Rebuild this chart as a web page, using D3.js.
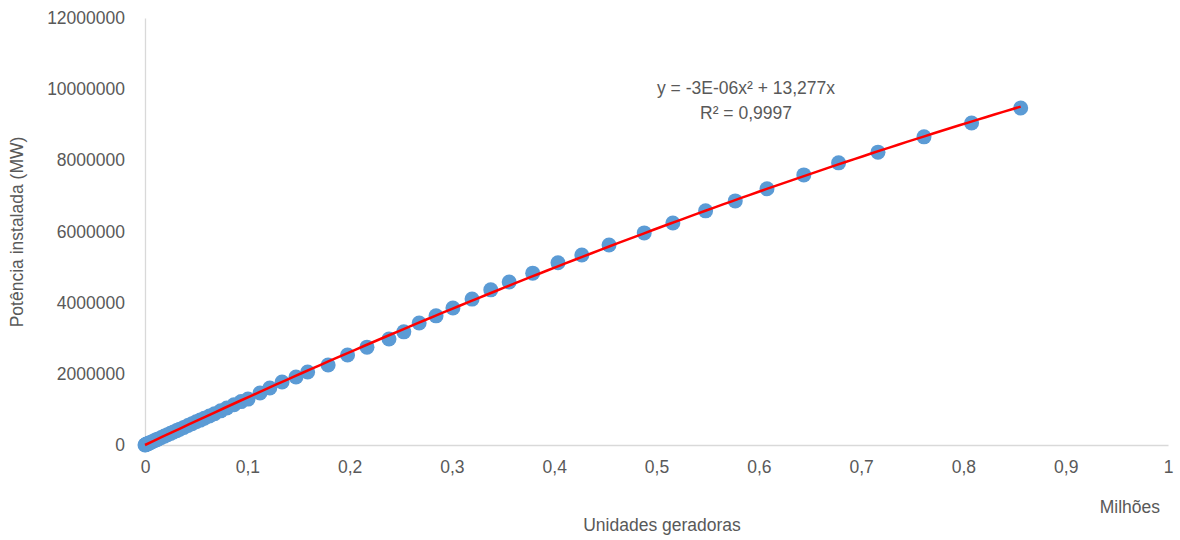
<!DOCTYPE html>
<html>
<head>
<meta charset="utf-8">
<script src="https://cdn.jsdelivr.net/npm/d3@7"></script>
<style>
  body { margin: 0; background: #fff; }
  text { font-family: "Liberation Sans", Arial, sans-serif; fill: #595959; }
</style>
</head>
<body>
<div id="chart"></div>
<script>
// Unidades geradoras (milhões)
const unidades = [
  0, 0.0005, 0.001, 0.0015, 0.002, 0.003, 0.004, 0.005, 0.007, 0.009,
  0.011, 0.013, 0.016, 0.019, 0.022, 0.025, 0.028, 0.031, 0.034, 0.038,
  0.042, 0.046, 0.050, 0.054, 0.058, 0.063, 0.068, 0.074, 0.080, 0.087,
  0.094, 0.1007, 0.1124, 0.122, 0.134, 0.1476, 0.159, 0.179, 0.198, 0.217,
  0.2385, 0.253, 0.268, 0.2845, 0.301, 0.3197, 0.338, 0.356, 0.379, 0.4037,
  0.427, 0.4536, 0.488, 0.516, 0.548, 0.577, 0.608, 0.644, 0.678, 0.7165,
  0.7615, 0.808, 0.856
];
// Potência instalada (MW)
const potencia = [
  0, 6000, 13000, 20000, 27000, 40000, 53000, 66000, 92000, 118000,
  145000, 172000, 210000, 250000, 290000, 328000, 368000, 405000, 445000, 495000,
  548000, 600000, 652000, 700000, 752000, 815000, 880000, 960000, 1040000, 1130000,
  1220000, 1290000, 1460000, 1600000, 1770000, 1910000, 2050000, 2250000, 2530000, 2750000,
  2980000, 3180000, 3430000, 3630000, 3850000, 4100000, 4360000, 4580000, 4830000, 5120000,
  5340000, 5620000, 5960000, 6240000, 6580000, 6860000, 7200000, 7590000, 7930000, 8230000,
  8660000, 9050000, 9470000
];
const xTicks = [0, 0.1, 0.2, 0.3, 0.4, 0.5, 0.6, 0.7, 0.8, 0.9, 1];
const yTicks = [0, 2000000, 4000000, 6000000, 8000000, 10000000, 12000000];
const equacao = ["y = -3E-06x² + 13,277x", "R² = 0,9997"];

const width = 1180, height = 540;
const margin = { left: 145, right: 12, top: 18, bottom: 95 };

const data = unidades.map((u, i) => ({ x: u, y: potencia[i] }));

const svg = d3.select("#chart").append("svg")
  .attr("width", width)
  .attr("height", height);

const xScale = d3.scaleLinear().domain([0, 1]).range([margin.left, width - margin.right]);
const yScale = d3.scaleLinear().domain([0, 12000000]).range([height - margin.bottom, margin.top]);

// axes
const xAxis = d3.axisBottom(xScale).tickValues(xTicks).tickSize(0).tickPadding(16)
  .tickFormat(d => String(d).replace(".", ","));
const gx = svg.append("g")
  .attr("transform", `translate(0, ${yScale(0)})`)
  .call(xAxis);
gx.select(".domain").attr("stroke", "#d9d9d9").attr("stroke-width", 1.3);
gx.selectAll("text").style("font-size", "17.5px").attr("fill", "#595959");

const yAxis = d3.axisLeft(yScale).tickValues(yTicks).tickSize(0).tickPadding(20)
  .tickFormat(d3.format("d"));
const gy = svg.append("g")
  .attr("transform", `translate(${xScale(0)}, 0)`)
  .call(yAxis);
gy.select(".domain").attr("stroke", "#d9d9d9").attr("stroke-width", 1.3);
gy.selectAll("text").style("font-size", "17.5px").attr("fill", "#595959");

// points
svg.append("g").selectAll("circle")
  .data(data)
  .enter()
  .append("circle")
  .attr("cx", d => xScale(d.x))
  .attr("cy", d => yScale(d.y))
  .attr("r", 7.5)
  .attr("fill", "#5b9bd5");

// polynomial trend line (order 2, through origin), least squares on the data
let s2 = 0, s3 = 0, s4 = 0, sxy = 0, sx2y = 0;
data.forEach(d => {
  s2 += d.x * d.x; s3 += d.x ** 3; s4 += d.x ** 4;
  sxy += d.x * d.y; sx2y += d.x * d.x * d.y;
});
const det = s4 * s2 - s3 * s3;
const a = (sx2y * s2 - sxy * s3) / det;
const b = (sxy * s4 - sx2y * s3) / det;
const xMax = d3.max(data, d => d.x);
const trend = d3.range(0, 101).map(i => {
  const x = xMax * i / 100;
  return { x: x, y: a * x * x + b * x };
});
svg.append("path")
  .datum(trend)
  .attr("fill", "none")
  .attr("stroke", "#ff0000")
  .attr("stroke-width", 2.5)
  .attr("d", d3.line().x(d => xScale(d.x)).y(d => yScale(d.y)));

// equation label
svg.append("g").selectAll("text")
  .data(equacao)
  .enter()
  .append("text")
  .attr("x", 746)
  .attr("y", (d, i) => 94 + i * 25)
  .attr("text-anchor", "middle")
  .style("font-size", "17.5px")
  .text(d => d);

// axis titles
svg.append("text")
  .attr("x", 1160)
  .attr("y", 513)
  .attr("text-anchor", "end")
  .style("font-size", "17.5px")
  .text("Milhões");

svg.append("text")
  .attr("x", 662)
  .attr("y", 531)
  .attr("text-anchor", "middle")
  .style("font-size", "17.5px")
  .text("Unidades geradoras");

svg.append("text")
  .attr("transform", "translate(23, 232) rotate(-90)")
  .attr("text-anchor", "middle")
  .style("font-size", "17.5px")
  .text("Potência instalada (MW)");
</script>
</body>
</html>
